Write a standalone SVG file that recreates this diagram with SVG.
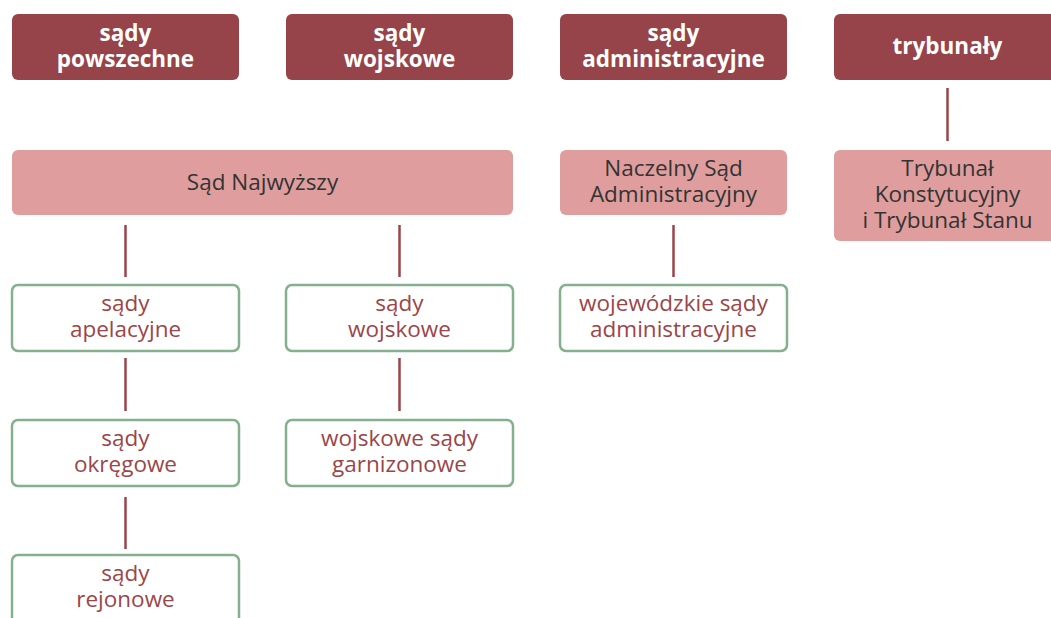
<svg xmlns="http://www.w3.org/2000/svg" width="1051" height="618" viewBox="0 0 1051 618">
<style>
.h rect{fill:#96444a}
.h text{fill:#fff;font-family:"Open Sans",sans-serif;font-weight:bold;font-size:22.5px;text-anchor:middle}
.p rect{fill:#df9e9d}
.p text{fill:#333;font-family:"Open Sans",sans-serif;font-size:22.5px;text-anchor:middle}
.g rect{fill:#fff;stroke:#84b08e;stroke-width:2.5}
.g text{fill:#9b4549;font-family:"Open Sans",sans-serif;font-size:22.5px;text-anchor:middle}
#connectors line{stroke:#9b4549;stroke-width:2.5}
</style>
<rect width="1051" height="618" fill="#fff"/>
<g id="h1" class="h"><rect x="12" y="14" width="227" height="66" rx="6"/><text x="125.5" y="41">sądy<tspan x="125.5" dy="26">powszechne</tspan></text></g>
<g id="h2" class="h"><rect x="286" y="14" width="227" height="66" rx="6"/><text x="399.5" y="41">sądy<tspan x="399.5" dy="26">wojskowe</tspan></text></g>
<g id="h3" class="h"><rect x="560" y="14" width="227" height="66" rx="6"/><text x="673.5" y="41">sądy<tspan x="673.5" dy="26">administracyjne</tspan></text></g>
<g id="h4" class="h"><rect x="834" y="14" width="227" height="66" rx="6"/><text x="947.5" y="54">trybunały</text></g>
<g id="sn" class="p"><rect x="12" y="150" width="501" height="65" rx="6"/><text x="262.5" y="190">Sąd Najwyższy</text></g>
<g id="nsa" class="p"><rect x="560" y="150" width="227" height="65" rx="6"/><text x="673.5" y="176">Naczelny Sąd<tspan x="673.5" dy="26">Administracyjny</tspan></text></g>
<g id="tk" class="p"><rect x="834" y="150" width="227" height="91" rx="6"/><text x="947.5" y="176">Trybunał<tspan x="947.5" dy="26">Konstytucyjny</tspan><tspan x="947.5" dy="26">i Trybunał Stanu</tspan></text></g>
<g id="apel" class="g"><rect x="12" y="285" width="227" height="66" rx="6"/><text x="125.5" y="311">sądy<tspan x="125.5" dy="26">apelacyjne</tspan></text></g>
<g id="wojs" class="g"><rect x="286" y="285" width="227" height="66" rx="6"/><text x="399.5" y="311">sądy<tspan x="399.5" dy="26">wojskowe</tspan></text></g>
<g id="wsa" class="g"><rect x="560" y="285" width="227" height="66" rx="6"/><text x="673.5" y="311">wojewódzkie sądy<tspan x="673.5" dy="26">administracyjne</tspan></text></g>
<g id="okr" class="g"><rect x="12" y="420" width="227" height="66" rx="6"/><text x="125.5" y="446">sądy<tspan x="125.5" dy="26">okręgowe</tspan></text></g>
<g id="garn" class="g"><rect x="286" y="420" width="227" height="66" rx="6"/><text x="399.5" y="446">wojskowe sądy<tspan x="399.5" dy="26">garnizonowe</tspan></text></g>
<g id="rej" class="g"><rect x="12" y="555" width="227" height="70" rx="6"/><text x="125.5" y="581">sądy<tspan x="125.5" dy="26">rejonowe</tspan></text></g>
<g id="connectors">
<line x1="125.5" y1="225" x2="125.5" y2="277"/>
<line x1="399.5" y1="225" x2="399.5" y2="277"/>
<line x1="673.5" y1="225" x2="673.5" y2="277"/>
<line x1="947.5" y1="88" x2="947.5" y2="141"/>
<line x1="125.5" y1="358" x2="125.5" y2="411"/>
<line x1="399.5" y1="358" x2="399.5" y2="411"/>
<line x1="125.5" y1="497" x2="125.5" y2="549"/>
</g>
</svg>
